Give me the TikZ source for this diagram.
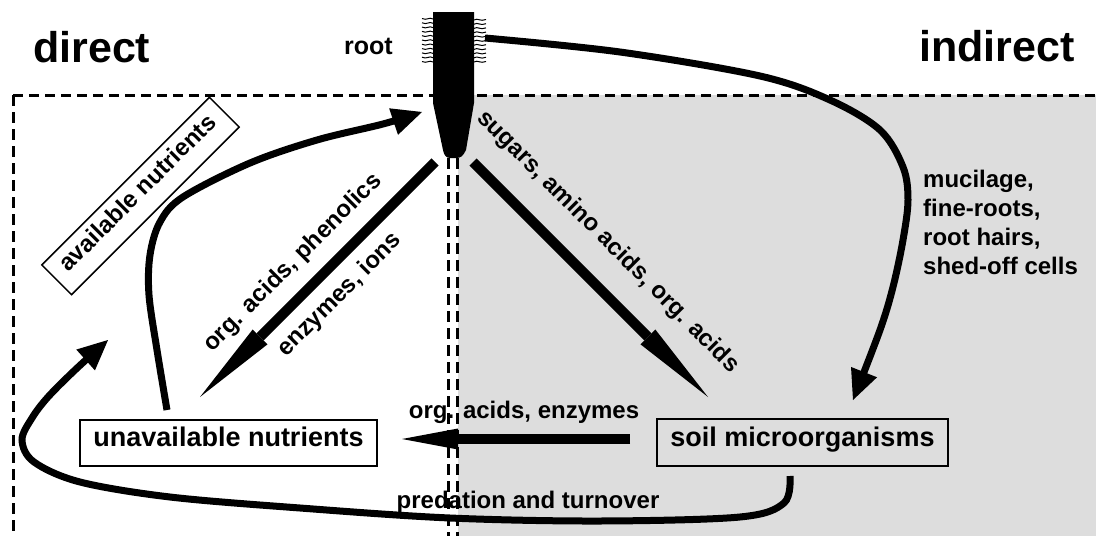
\documentclass[tikz,border=0pt]{standalone}
\usepackage{fontspec}
\setmainfont{Liberation Sans}
\usetikzlibrary{arrows.meta}
\definecolor{soilgray}{RGB}{221,221,221}
\begin{document}
\begin{tikzpicture}[x=1pt,y=-1pt,
  lbl/.style={font=\fontsize{24}{29}\selectfont\bfseries, inner sep=0pt},
  title/.style={font=\fontsize{43}{50}\selectfont\bfseries, inner sep=0pt},
  boxlbl/.style={draw, line width=1.5pt, font=\fontsize{27}{32}\selectfont\bfseries, inner sep=0pt, text height=0.75em, text depth=0.05em},
  bigarrow/.style={line width=10pt, -{Triangle[length=85pt,width=21pt,line width=0pt]}},
  flatarrow/.style={line width=10pt, -{Triangle[length=56pt,width=21pt,line width=0pt]}},
  curvearrow/.style={line width=7pt, -{Triangle[length=30pt,width=28pt,line width=0pt]}},
  zoneh/.style={line width=3pt, dash pattern=on 10pt off 6pt},
  zonev/.style={line width=3pt, dash pattern=on 11pt off 6pt},
  hair/.style={line width=1pt},
]
\useasboundingbox (0,0) rectangle (1096,536);
% soil (indirect) region
\fill[soilgray] (458,95) rectangle (1096,536);
% zone borders
\draw[zoneh] (13,95) -- (1096,95);
\draw[zonev] (13,95) -- (13,536);
% root
\fill (433,12) -- (474,12) -- (474,103) -- (466,150)
  .. controls (463,156) and (461,158) .. (456,158) -- (450,158)
  .. controls (446,158) and (444,155) .. (443,150) -- (433,103) -- cycle;
\foreach \i in {0,...,10} {
  \draw[hair] (433,{19+4.3*\i}) .. controls (429,{16.5+4.3*\i}) and (427,{21+4.3*\i}) .. (422,{18.5+4.3*\i});
  \draw[hair] (474,{20+4.2*\i}) .. controls (478,{17.5+4.2*\i}) and (480,{22+4.2*\i}) .. (486,{19.5+4.2*\i});
}
\coordinate (root) at (453,80);
\coordinate (rootR) at (485,38);
% titles
\node[title, anchor=base west] (direct) at (33,62) {direct};
\node[title, anchor=base east] (indirect) at (1075,61) {indirect};
\node[font=\fontsize{25}{30}\selectfont\bfseries, inner sep=0pt, anchor=base east] (rootlbl) at (393,54) {root};
% boxes
\node[boxlbl, minimum width=297pt, minimum height=46pt] (unavail) at (228.5,443) {unavailable nutrients};
\node[boxlbl, minimum width=291pt, minimum height=47pt] (soil) at (802.5,442.5) {soil microorganisms};
\node[boxlbl, font=\fontsize{24}{29}\selectfont\bfseries, rotate=45, minimum width=237pt, minimum height=42pt] (avail) at (140.5,196) {available nutrients};
% straight arrows
\coordinate (a1s) at (435,162);
\coordinate (a1e) at (200,397);
\coordinate (a2s) at (473,162);
\coordinate (a2e) at (708,397);
\coordinate (a3s) at (630,439);
\coordinate (a3e) at (402,439);
\draw[bigarrow] (a1s) -- (a1e);
\draw[bigarrow] (a2s) -- (a2e);
\draw[flatarrow] (a3s) -- (a3e);
% curved arrows
\coordinate (unS) at (167,410);
\coordinate (unE) at (422,112);
\draw[curvearrow] plot[smooth, tension=0.55] coordinates {(unS) (157,350) (149,295) (150,255) (160,222) (183,197) (250,163) (317,140) (383,124) (unE)};
\coordinate (indE) at (853,400);
\draw[curvearrow] plot[smooth, tension=0.55] coordinates {(rootR) (620,52) (760,76) (830,100) (880,130) (903,167) (908,200) (903,240) (893,287) (880,330) (indE)};
\coordinate (predS) at (790,476);
\coordinate (predE) at (108,340);
\draw[curvearrow] plot[smooth, tension=0.55] coordinates {(predS) (784,503) (740,517) (600,521) (450,518) (300,508) (170,497) (80,482) (34,462) (22,440) (32,418) (48,397) (75,370) (predE)};
% labels
\node[lbl, rotate=45] (lphen) at (293,263) {org. acids, phenolics};
\node[lbl, rotate=45] (lions) at (340,295) {enzymes, ions};
\node[lbl, rotate=-45] (lsug) at (608,242) {sugars, amino acids, org. acids};
\node[lbl, anchor=base] (lorg) at (524,418) {org. acids, enzymes};
\node[lbl, anchor=base] (lpred) at (528,508) {predation and turnover};
\node[lbl, anchor=north west, align=left] (lmuc) at (923,170) {mucilage,\\fine-roots,\\root hairs,\\shed-off cells};
% boundary between direct and indirect zones (drawn on top)
\draw[zonev] (448,158) -- (448,536);
\draw[zonev] (457,158) -- (457,536);
\end{tikzpicture}
\end{document}
